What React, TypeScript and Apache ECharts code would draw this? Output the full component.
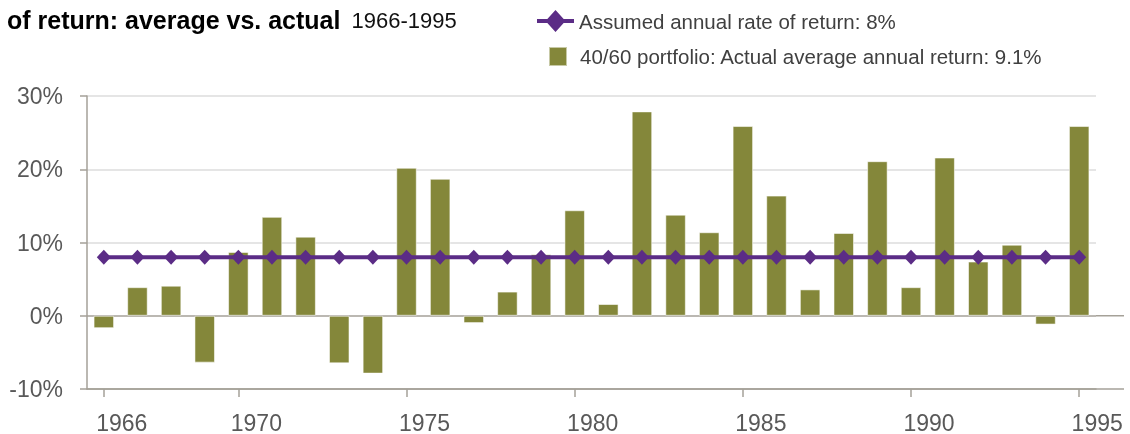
import { useEffect, useRef } from 'react';
import * as echarts from 'echarts';

const years = ['1966', '1967', '1968', '1969', '1970', '1971', '1972', '1973', '1974', '1975', '1976', '1977', '1978', '1979', '1980', '1981', '1982', '1983', '1984', '1985', '1986', '1987', '1988', '1989', '1990', '1991', '1992', '1993', '1994', '1995'];
const labeledYears = ['1966', '1970', '1975', '1980', '1985', '1990', '1995'];
const actualReturns = [-1.7, 3.9, 4.1, -6.4, 8.7, 13.5, 10.8, -6.5, -7.9, 20.2, 18.7, -1.0, 3.3, 8.4, 14.4, 1.6, 27.9, 13.8, 11.4, 25.9, 16.4, 3.6, 11.3, 21.1, 3.9, 21.6, 7.4, 9.7, -1.2, 25.9];
const assumedReturns = [8, 8, 8, 8, 8, 8, 8, 8, 8, 8, 8, 8, 8, 8, 8, 8, 8, 8, 8, 8, 8, 8, 8, 8, 8, 8, 8, 8, 8, 8];
const assumedName = 'Assumed annual rate of return: 8%';
const actualName = '40/60 portfolio: Actual average annual return: 9.1%';
const titleBold = 'of return: average vs. actual';
const titleRange = '1966-1995';

const FONT = '"Liberation Sans", Arial, Helvetica, sans-serif';
const AXIS = '#a5a198';
const GRID = '#dcdcdc';
const PURPLE = '#5b2c86';
const OLIVE = '#84873a';

const GRID_LEFT = 87;
const GRID_TOP = 96;
const GRID_W = 1009;
const GRID_H = 296;
const AXIS_END = 1124;

const LINE_DIAMOND_ICON = 'path://M0,9 H37 V13 H0 Z M18.5,0 L28.5,11 L18.5,22 L8.5,11 Z';

export default function App() {
  const ref = useRef<HTMLDivElement>(null);
  useEffect(() => {
    const chart = echarts.init(ref.current!, null, { renderer: 'svg' });
    chart.setOption({
      animation: false,
      textStyle: { fontFamily: FONT },
      title: {
        left: 7,
        top: 7,
        padding: 0,
        text: `{b|${titleBold}}{n|${titleRange}}`,
        textStyle: {
          fontWeight: 'normal',
          rich: {
            b: { fontFamily: FONT, fontSize: 25, fontWeight: 'bold', color: '#000' },
            n: { fontFamily: FONT, fontSize: 22, fontWeight: 'normal', color: '#111', padding: [2, 0, 0, 11] },
          },
        },
      },
      legend: [
        {
          left: 537,
          top: 10,
          padding: 0,
          itemWidth: 37,
          itemHeight: 22,
          data: [{ name: assumedName, icon: LINE_DIAMOND_ICON }],
          itemStyle: { color: PURPLE },
          lineStyle: { width: 0 },
          textStyle: { fontFamily: FONT, fontSize: 20.5, color: '#404040' },
        },
        {
          left: 548,
          top: 46,
          padding: 0,
          itemWidth: 18,
          itemHeight: 19,
          data: [{ name: actualName, icon: 'rect' }],
          textStyle: { fontFamily: FONT, fontSize: 20.5, color: '#404040', padding: [0, 0, 0, 8] },
        },
      ],
      grid: { left: GRID_LEFT, top: GRID_TOP, width: GRID_W, height: GRID_H, containLabel: false },
      xAxis: {
        type: 'category',
        data: years,
        boundaryGap: true,
        axisLine: { show: true, onZero: false, lineStyle: { color: AXIS, width: 1.5 } },
        axisTick: {
          show: true,
          alignWithLabel: true,
          length: 8,
          interval: (_i: number, v: string) => labeledYears.includes(v),
          lineStyle: { color: AXIS, width: 1.5 },
        },
        axisLabel: {
          interval: (_i: number, v: string) => labeledYears.includes(v),
          fontFamily: FONT,
          fontSize: 23,
          color: '#595959',
          margin: 22,
          align: 'center',
          padding: [0, 0, 0, 36],
        },
        splitLine: { show: false },
      },
      yAxis: {
        type: 'value',
        min: -10,
        max: 30,
        interval: 10,
        axisLine: { show: true, lineStyle: { color: AXIS, width: 1.5 } },
        axisTick: { show: true, length: 7, lineStyle: { color: AXIS, width: 1.5 } },
        axisLabel: {
          formatter: '{value}%',
          fontFamily: FONT,
          fontSize: 23,
          color: '#595959',
          margin: 24,
        },
        splitLine: {
          show: true,
          lineStyle: { color: [AXIS, AXIS, GRID, GRID, GRID], width: 1.5 },
        },
      },
      series: [
        {
          name: actualName,
          type: 'bar',
          data: actualReturns,
          barWidth: '61%',
          itemStyle: { color: OLIVE, borderColor: 'rgba(255,255,255,0.55)', borderWidth: 1 },
          z: 2,
        },
        {
          name: assumedName,
          type: 'line',
          data: assumedReturns,
          symbol: 'diamond',
          symbolSize: [14, 15],
          itemStyle: { color: PURPLE },
          lineStyle: { color: PURPLE, width: 4 },
          z: 3,
        },
      ],
    });
    const right = GRID_LEFT + GRID_W;
    const yZero = chart.convertToPixel({ yAxisIndex: 0 }, 0) as number;
    const yBottom = chart.convertToPixel({ yAxisIndex: 0 }, -10) as number;
    chart.setOption({
      graphic: [
        { type: 'line', shape: { x1: right, y1: yZero, x2: AXIS_END, y2: yZero }, style: { stroke: AXIS, lineWidth: 1.5 }, silent: true },
        { type: 'line', shape: { x1: right, y1: yBottom, x2: AXIS_END, y2: yBottom }, style: { stroke: AXIS, lineWidth: 1.5 }, silent: true },
      ],
    });
    return () => chart.dispose();
  }, []);
  return <div ref={ref} style={{ position: 'fixed', left: 0, top: 0, width: 1130, height: 434 }} />;
}
